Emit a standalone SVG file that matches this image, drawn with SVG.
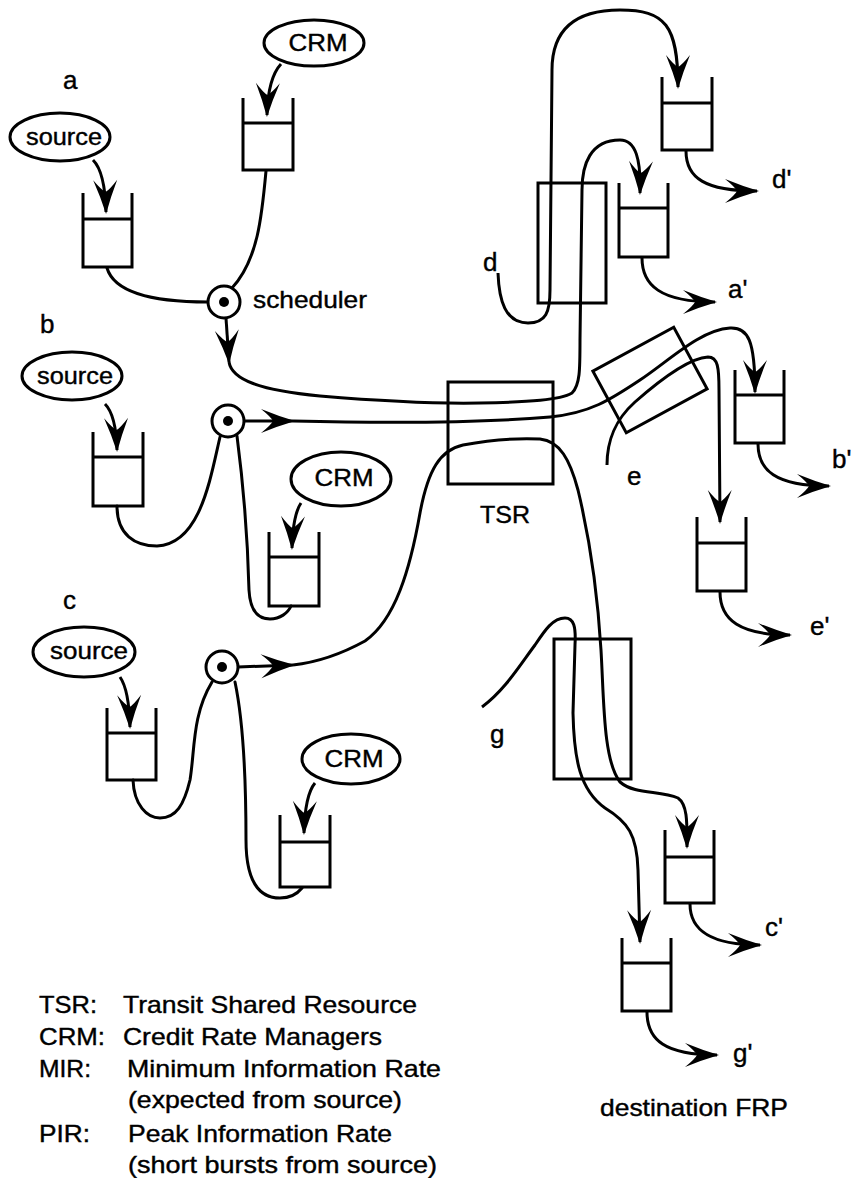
<svg xmlns="http://www.w3.org/2000/svg" width="852" height="1178" viewBox="0 0 852 1178">
<style>
.ln{fill:none;stroke:#000;stroke-width:3;stroke-linecap:round;stroke-linejoin:round}
.ar{fill:none;stroke:#000;stroke-width:3;marker-end:url(#ah)}
.q{fill:none;stroke:#000;stroke-width:3;stroke-linejoin:miter}
.el{fill:#fff;stroke:#000;stroke-width:3}
.bx{fill:none;stroke:#000;stroke-width:3}
.t{font-family:"Liberation Sans",Arial,Helvetica,sans-serif;font-size:24px;fill:#000;stroke:#000;stroke-width:0.4}
.s{font-size:26px}
.m{text-anchor:middle}
</style>
<defs>
<marker id="ah" viewBox="-36 -13 40 26" refX="-2" refY="0" markerWidth="40" markerHeight="26" markerUnits="userSpaceOnUse" orient="auto">
<path d="M0,0 Q-17,-5 -34,-12 Q-24,-4 -22,0 Q-24,4 -34,12 Q-17,5 0,0 Z" fill="#000"/>
</marker>
</defs>
<rect width="852" height="1178" fill="#fff"/>

<g id="connectors">
<path class="ar" d="M93,160 Q105,172 106,212"/>
<path class="ar" d="M281,64 Q268,78 267,115"/>
<path class="ar" d="M105,404 Q116,415 117,450"/>
<path class="ar" d="M301,503 Q293,515 292,548"/>
<path class="ar" d="M120,677 Q129,690 130,727"/>
<path class="ar" d="M315,783 Q305,795 304,833"/>
<path class="ln" d="M107,268 C115,295 160,302 208,302"/>
<path class="ln" d="M266,171 C262,215 258,260 232,288"/>
<path class="ln" d="M117,506 C117,535 135,546 157,546 C200,544 210,480 220,437"/>
<path class="ln" d="M237,436 C244,490 248,550 249,590 C250,610 258,619 270,619 C280,619 288,613 291,606"/>
<path class="ln" d="M133,780 C134,805 147,818 160,818 C176,818 184,805 190,780 C195,750 192,715 212,682"/>
<path class="ln" d="M235,682 C243,720 246,780 246,840 C246,875 255,898 280,898 C292,898 298,893 302,888"/>
<path class="ar" d="M226,318 L229,362"/>
<path class="ar" d="M229,362 C232,380 260,390 320,396 C380,401 430,404 480,403 C530,402 560,400 572,393 C580,385 580,370 580,340 L582,190 C582,165 590,140 620,140 C636,140 641,160 640,193"/>
<path class="ar" d="M244,421 L293,421"/>
<path class="ar" d="M293,421 C380,423 480,423 550,417 C590,413 610,400 640,380 C670,360 700,330 730,328 C748,327 755,340 755,392"/>
<path class="ar" d="M238,667 L293,665"/>
<path class="ar" d="M293,665 C320,662 345,652 365,641 C395,620 410,570 420,513 C428,470 440,450 463,445 C490,440 520,438 540,439 C560,441 570,460 578,490 C590,540 598,600 601,650 C604,700 603,760 620,782 C635,795 660,790 678,798 C688,805 687,825 687,847"/>
<path class="ar" d="M498,273 C499,300 505,323 528,323 C546,323 550,312 550,290 L552,70 C552,30 575,10 620,10 C665,10 678,25 678,87"/>
<path class="ar" d="M607,465 C607,440 615,420 635,402 C660,380 690,358 708,357 C718,357 719,368 719,390 L720,522"/>
<path class="ar" d="M482,707 C505,690 520,665 535,645 C545,630 553,618 565,618 C574,618 576,627 575,645 L573,713 C574,760 580,790 605,808 C628,822 637,835 638,870 L640,942"/>
<path class="ar" d="M686,151 C686,178 705,191 757,191"/>
<path class="ar" d="M642,258 C642,285 660,302 715,302"/>
<path class="ar" d="M758,444 C758,470 775,486 829,486"/>
<path class="ar" d="M720,592 C720,620 740,635 790,635"/>
<path class="ar" d="M690,904 C690,930 710,945 760,945"/>
<path class="ar" d="M647,1012 C647,1040 665,1055 717,1055"/>
</g>

<g id="node-source-a"><ellipse class="el" cx="60" cy="137" rx="50" ry="24"/><text class="t m" x="64" y="145" textLength="76" lengthAdjust="spacingAndGlyphs">source</text></g>
<g id="node-crm-a"><ellipse class="el" cx="314" cy="43" rx="50" ry="23"/><text class="t m" x="318" y="51" textLength="59" lengthAdjust="spacingAndGlyphs">CRM</text></g>
<g id="node-source-b"><ellipse class="el" cx="72" cy="376" rx="50" ry="24"/><text class="t m" x="75" y="384" textLength="76" lengthAdjust="spacingAndGlyphs">source</text></g>
<g id="node-crm-b"><ellipse class="el" cx="341" cy="479" rx="50" ry="27"/><text class="t m" x="344" y="486" textLength="59" lengthAdjust="spacingAndGlyphs">CRM</text></g>
<g id="node-source-c"><ellipse class="el" cx="84" cy="652" rx="51" ry="25"/><text class="t m" x="89" y="659" textLength="78" lengthAdjust="spacingAndGlyphs">source</text></g>
<g id="node-crm-c"><ellipse class="el" cx="351" cy="759" rx="49" ry="25"/><text class="t m" x="354" y="767" textLength="59" lengthAdjust="spacingAndGlyphs">CRM</text></g>

<g id="node-queue-a"><path class="q" d="M83,193 V267 H132 V193 M83,219 H132"/></g>
<g id="node-queue-crm-a"><path class="q" d="M243,98 V170 H293 V98 M243,123 H293"/></g>
<g id="node-queue-b"><path class="q" d="M93,432 V506 H143 V432 M93,457 H143"/></g>
<g id="node-queue-crm-b"><path class="q" d="M269,532 V606 H319 V532 M269,557 H319"/></g>
<g id="node-queue-c"><path class="q" d="M107,708 V780 H156 V708 M107,733 H156"/></g>
<g id="node-queue-crm-c"><path class="q" d="M280,815 V887 H330 V815 M280,842 H330"/></g>

<g id="node-scheduler-a"><circle class="el" cx="224" cy="302" r="16"/><circle cx="224" cy="302" r="5" fill="#000"/><text class="t" x="253" y="308" textLength="114" lengthAdjust="spacingAndGlyphs">scheduler</text></g>
<g id="node-scheduler-b"><circle class="el" cx="228" cy="421" r="16"/><circle cx="228" cy="421" r="5" fill="#000"/></g>
<g id="node-scheduler-c"><circle class="el" cx="222" cy="667" r="16"/><circle cx="222" cy="667" r="5" fill="#000"/></g>

<g id="node-tsr"><rect class="bx" x="448" y="382" width="105" height="102"/><text class="t" x="480" y="523" textLength="50" lengthAdjust="spacingAndGlyphs">TSR</text></g>
<g id="node-box-d"><rect class="bx" x="538" y="183" width="68" height="120"/></g>
<g id="node-box-e"><rect class="bx" x="604" y="345" width="92" height="70" transform="rotate(-28.5 650 380)"/></g>
<g id="node-box-g"><rect class="bx" x="554" y="639" width="77" height="140"/></g>

<g id="node-queue-d-out"><path class="q" d="M662,77 V150 H712 V77 M662,103 H712"/></g>
<g id="node-queue-a-out"><path class="q" d="M619,183 V257 H668 V183 M619,208 H668"/></g>
<g id="node-queue-b-out"><path class="q" d="M735,370 V443 H784 V370 M735,395 H784"/></g>
<g id="node-queue-e-out"><path class="q" d="M697,517 V591 H746 V517 M697,543 H746"/></g>
<g id="node-queue-c-out"><path class="q" d="M665,830 V903 H714 V830 M665,857 H714"/></g>
<g id="node-queue-g-out"><path class="q" d="M622,938 V1011 H671 V938 M622,963 H671"/></g>

<g id="labels">
<text class="t s" x="63" y="89">a</text>
<text class="t s" x="40" y="333">b</text>
<text class="t s" x="63" y="609">c</text>
<text class="t s" x="483" y="271">d</text>
<text class="t s" x="627" y="485">e</text>
<text class="t s" x="490" y="743">g</text>
<text class="t s" x="772" y="188">d'</text>
<text class="t s" x="728" y="298">a'</text>
<text class="t s" x="832" y="468">b'</text>
<text class="t s" x="810" y="635">e'</text>
<text class="t s" x="765" y="936">c'</text>
<text class="t s" x="733" y="1062">g'</text>
<text class="t" x="600" y="1116" textLength="188" lengthAdjust="spacingAndGlyphs">destination FRP</text>
</g>

<g id="legend">
<text class="t" x="39" y="1013" textLength="58" lengthAdjust="spacingAndGlyphs">TSR:</text>
<text class="t" x="123" y="1013" textLength="294" lengthAdjust="spacingAndGlyphs">Transit Shared Resource</text>
<text class="t" x="39" y="1045" textLength="66" lengthAdjust="spacingAndGlyphs">CRM:</text>
<text class="t" x="123" y="1045" textLength="259" lengthAdjust="spacingAndGlyphs">Credit Rate Managers</text>
<text class="t" x="39" y="1077" textLength="52" lengthAdjust="spacingAndGlyphs">MIR:</text>
<text class="t" x="127" y="1077" textLength="314" lengthAdjust="spacingAndGlyphs">Minimum Information Rate</text>
<text class="t" x="128" y="1108" textLength="274" lengthAdjust="spacingAndGlyphs">(expected from source)</text>
<text class="t" x="39" y="1142" textLength="51" lengthAdjust="spacingAndGlyphs">PIR:</text>
<text class="t" x="128" y="1142" textLength="264" lengthAdjust="spacingAndGlyphs">Peak Information Rate</text>
<text class="t" x="128" y="1173" textLength="309" lengthAdjust="spacingAndGlyphs">(short bursts from source)</text>
</g>
</svg>
